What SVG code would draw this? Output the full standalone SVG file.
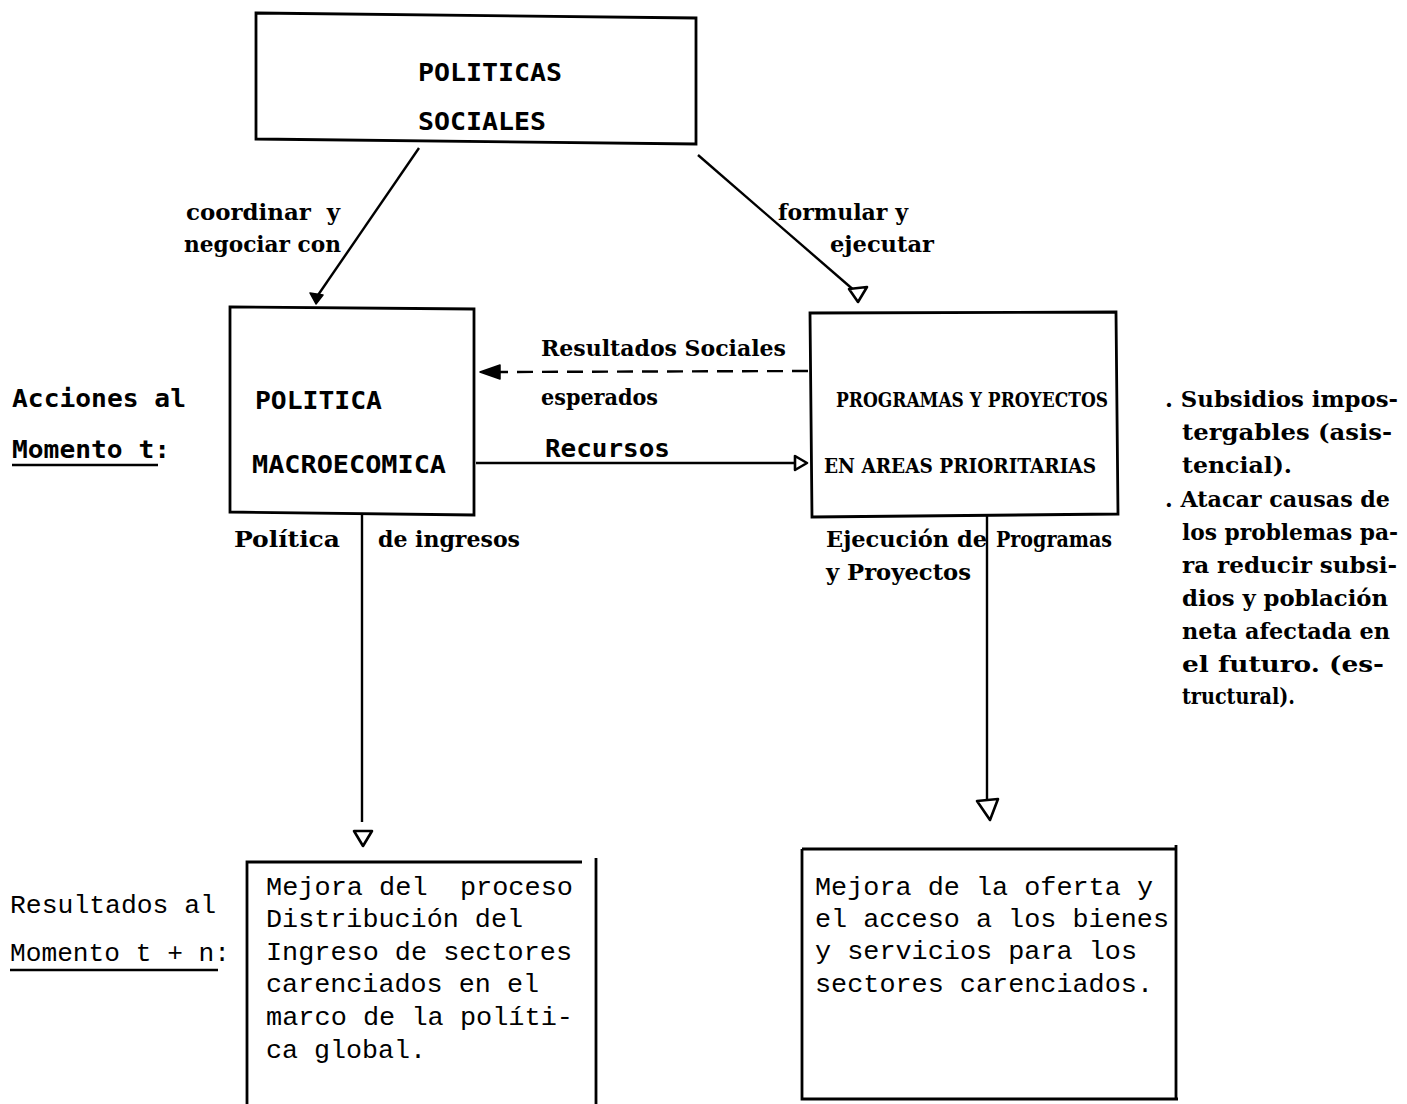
<svg xmlns="http://www.w3.org/2000/svg" width="1407" height="1104" viewBox="0 0 1407 1104">
<style>
.box{fill:none;stroke:#000;stroke-width:2.8}
.ln{fill:none;stroke:#000;stroke-width:2.4}
.mb{font-family:"DejaVu Sans Mono","Liberation Mono",monospace;font-weight:bold;font-size:25px;fill:#000}
.mr{font-family:"Liberation Mono",monospace;font-size:26px;fill:#000}
.pb{font-family:"DejaVu Serif Condensed","DejaVu Serif","Liberation Serif",serif;font-stretch:condensed;font-weight:bold;font-size:22px;fill:#000}
.pc{font-size:20px}
.open{fill:#fff;stroke:#000;stroke-width:2.6;stroke-linejoin:round}
.fill{fill:#000;stroke:#000;stroke-width:1.5;stroke-linejoin:round}
</style>
<rect width="1407" height="1104" fill="#fff"/>
<g id="politicas-sociales">
<polygon class="box" points="256,13 696,18 696,144 256,139"/>
<text class="mb" x="418" y="81" textLength="144" lengthAdjust="spacingAndGlyphs">POLITICAS</text>
<text class="mb" x="418" y="130" textLength="128" lengthAdjust="spacingAndGlyphs">SOCIALES</text>
</g>
<g id="politica-macro">
<polygon class="box" points="230,307 474,309 474,515 230,512"/>
<text class="mb" x="255" y="409" textLength="127" lengthAdjust="spacingAndGlyphs">POLITICA</text>
<text class="mb" x="252" y="473" textLength="194" lengthAdjust="spacingAndGlyphs">MACROECOMICA</text>
</g>
<g id="programas">
<polygon class="box" points="810,313 1116,312 1118,514 812,517"/>
<text class="pb pc" x="836" y="407" textLength="272" lengthAdjust="spacingAndGlyphs">PROGRAMAS Y PROYECTOS</text>
<text class="pb pc" x="824" y="473" textLength="272" lengthAdjust="spacingAndGlyphs">EN AREAS PRIORITARIAS</text>
</g>
<g id="mejora-distribucion">
<path class="box" d="M247,1104 V862 H582 M596,858 V1104"/>
<text class="mr" x="266" y="895" textLength="307" lengthAdjust="spacingAndGlyphs" xml:space="preserve">Mejora del  proceso</text>
<text class="mr" x="266" y="927" textLength="257" lengthAdjust="spacingAndGlyphs">Distribución del</text>
<text class="mr" x="266" y="960" textLength="306" lengthAdjust="spacingAndGlyphs">Ingreso de sectores</text>
<text class="mr" x="266" y="992" textLength="273" lengthAdjust="spacingAndGlyphs">carenciados en el</text>
<text class="mr" x="266" y="1025" textLength="307" lengthAdjust="spacingAndGlyphs">marco de la políti-</text>
<text class="mr" x="266" y="1058" textLength="160" lengthAdjust="spacingAndGlyphs">ca global.</text>
</g>
<g id="mejora-oferta">
<path class="box" d="M802,849 H1176 M802,849 V1099 H1178 M1176,845 V1099"/>
<text class="mr" x="815" y="895" textLength="338" lengthAdjust="spacingAndGlyphs">Mejora de la oferta y</text>
<text class="mr" x="815" y="927" textLength="354" lengthAdjust="spacingAndGlyphs">el acceso a los bienes</text>
<text class="mr" x="815" y="959" textLength="322" lengthAdjust="spacingAndGlyphs">y servicios para los</text>
<text class="mr" x="815" y="992" textLength="338" lengthAdjust="spacingAndGlyphs">sectores carenciados.</text>
</g>
<g id="etiquetas-momento">
<text class="mb" x="12" y="407" textLength="174" lengthAdjust="spacingAndGlyphs">Acciones al</text>
<text class="mb" x="12" y="458" textLength="158" lengthAdjust="spacingAndGlyphs">Momento t:</text>
<line class="ln" x1="12" y1="465" x2="158" y2="465"/>
<text class="mr" x="10" y="913" textLength="206" lengthAdjust="spacingAndGlyphs">Resultados al</text>
<text class="mr" x="10" y="961" textLength="220" lengthAdjust="spacingAndGlyphs">Momento t + n:</text>
<line class="ln" x1="10" y1="970" x2="218" y2="970"/>
</g>
<g id="notas">
<text class="pb" x="1165" y="407" textLength="233" lengthAdjust="spacingAndGlyphs">. Subsidios impos-</text>
<text class="pb" x="1182" y="440" textLength="210" lengthAdjust="spacingAndGlyphs">tergables (asis-</text>
<text class="pb" x="1182" y="473" textLength="110" lengthAdjust="spacingAndGlyphs">tencial).</text>
<text class="pb" x="1165" y="507" textLength="225" lengthAdjust="spacingAndGlyphs">. Atacar causas de</text>
<text class="pb" x="1182" y="540" textLength="216" lengthAdjust="spacingAndGlyphs">los problemas pa-</text>
<text class="pb" x="1182" y="573" textLength="215" lengthAdjust="spacingAndGlyphs">ra reducir subsi-</text>
<text class="pb" x="1182" y="606" textLength="206" lengthAdjust="spacingAndGlyphs">dios y población</text>
<text class="pb" x="1182" y="639" textLength="208" lengthAdjust="spacingAndGlyphs">neta afectada en</text>
<text class="pb" x="1182" y="672" textLength="202" lengthAdjust="spacingAndGlyphs">el futuro. (es-</text>
<text class="pb" x="1182" y="704" textLength="113" lengthAdjust="spacingAndGlyphs">tructural).</text>
</g>
<g id="connectors">
<line class="ln" x1="419" y1="148" x2="316" y2="298"/>
<polygon class="fill" points="310,293 323,295 316,304"/>
<text class="pb" x="186" y="220" textLength="154" lengthAdjust="spacingAndGlyphs" xml:space="preserve">coordinar  y</text>
<text class="pb" x="184" y="252" textLength="157" lengthAdjust="spacingAndGlyphs">negociar con</text>
<line class="ln" x1="698" y1="155" x2="856" y2="292"/>
<polygon class="open" points="849,289 867,287 858,302"/>
<text class="pb" x="778" y="220" textLength="130" lengthAdjust="spacingAndGlyphs">formular y</text>
<text class="pb" x="830" y="252" textLength="104" lengthAdjust="spacingAndGlyphs">ejecutar</text>
<line class="ln" x1="808" y1="371" x2="500" y2="372" stroke-dasharray="16,9"/>
<polygon class="fill" points="480,372 500,365 500,379"/>
<text class="pb" x="541" y="356" textLength="245" lengthAdjust="spacingAndGlyphs">Resultados Sociales</text>
<text class="pb" x="541" y="405" textLength="117" lengthAdjust="spacingAndGlyphs">esperados</text>
<line class="ln" x1="476" y1="463" x2="795" y2="463"/>
<polygon class="open" points="795,456 795,470 807,463"/>
<text class="mb" x="545" y="457" textLength="125" lengthAdjust="spacingAndGlyphs">Recursos</text>
<line class="ln" x1="362" y1="514" x2="362" y2="822"/>
<polygon class="open" points="354,831 372,831 363,846"/>
<text class="pb" x="234" y="547" textLength="106" lengthAdjust="spacingAndGlyphs">Política</text>
<text class="pb" x="378" y="547" textLength="142" lengthAdjust="spacingAndGlyphs">de ingresos</text>
<line class="ln" x1="987" y1="516" x2="987" y2="806"/>
<polygon class="open" points="977,801 998,799 990,820"/>
<text class="pb" x="826" y="547" textLength="161" lengthAdjust="spacingAndGlyphs">Ejecución de</text>
<text class="pb" x="996" y="547" textLength="116" lengthAdjust="spacingAndGlyphs">Programas</text>
<text class="pb" x="826" y="580" textLength="145" lengthAdjust="spacingAndGlyphs">y Proyectos</text>
</g>
</svg>
